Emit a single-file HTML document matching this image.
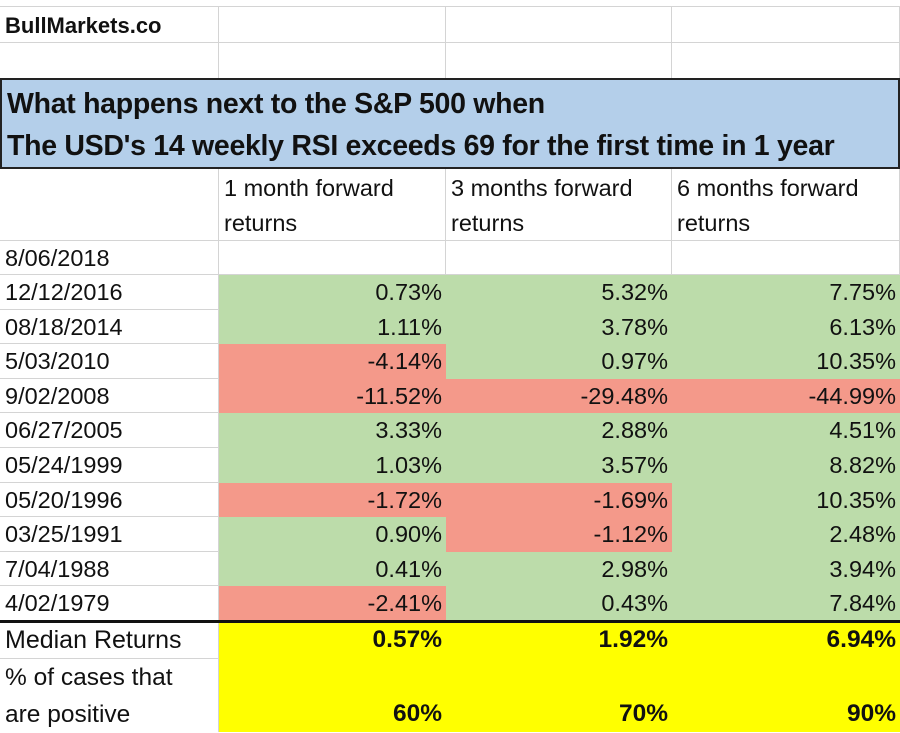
<!DOCTYPE html>
<html><head><meta charset="utf-8"><style>
body{margin:0;width:900px;height:732px;overflow:hidden;background:#fff;font-family:"Liberation Sans",Carlito,sans-serif;}
.c{position:absolute;box-sizing:border-box;color:#111;white-space:nowrap;}
</style></head><body>
<div id="root" style="position:relative;width:900px;height:732px;"></div>
<script>
const dates=["12/12/2016","08/18/2014","5/03/2010","9/02/2008","06/27/2005","05/24/1999","05/20/1996","03/25/1991","7/04/1988","4/02/1979"];
const m1=[0.73,1.11,-4.14,-11.52,3.33,1.03,-1.72,0.90,0.41,-2.41];
const m3=[5.32,3.78,0.97,-29.48,2.88,3.57,-1.69,-1.12,2.98,0.43];
const m6=[7.75,6.13,10.35,-44.99,4.51,8.82,10.35,2.48,3.94,7.84];
const medians=["0.57%","1.92%","6.94%"];
const positives=["60%","70%","90%"];
const colX=[0,219,446,672,900];
const root=document.getElementById('root');
function cell(x,y,w,h,txt,css,name){
 const d=document.createElement('div');d.className='c';
 d.style.cssText=`left:${x}px;top:${y}px;width:${w}px;height:${h}px;`+(css||'');
 d.innerHTML=txt;
 
 
 root.appendChild(d);return d;}
const grid='border-right:1px solid #d4d4d4;border-bottom:1px solid #d4d4d4;';
for(let r=0;r<2;r++)for(let c=0;c<4;c++){
 cell(colX[c],7+r*36,colX[c+1]-colX[c],36,(r==0&&c==0)?'BullMarkets.co':'',grid+'font-weight:bold;font-size:22px;padding:6px 0 0 5px;',(r==0&&c==0)?'brand-label':'empty-cell');}
cell(0,0,900,7,'','border-bottom:1px solid #d4d4d4;','top-gridline');
cell(0,78,900,91,'What happens next to the S&amp;P 500 when<br>The USD\'s 14 weekly RSI exceeds 69 for the first time in 1 year','background:#b4cfea;border:2px solid #222;font-weight:bold;font-size:28.5px;line-height:42px;padding:3px 0 0 5px;letter-spacing:-0.3px;','table-title');
const hdr=["","1 month forward<br>returns","3 months forward<br>returns","6 months forward<br>returns"];
for(let c=0;c<4;c++)cell(colX[c],169,colX[c+1]-colX[c],72,hdr[c],grid+'font-size:23.5px;line-height:35px;padding:2px 0 0 5px;','column-header');
for(let c=0;c<4;c++)cell(colX[c],241,colX[c+1]-colX[c],34,c==0?'8/06/2018':'',grid+'font-size:23.5px;padding:4px 0 0 5px;','date-row-2018');
const rh=34.6;
const cols=[m1,m3,m6];
dates.forEach((d,i)=>{
 const y=275+i*rh;
 cell(0,y,219,rh,d,grid+'font-size:23.5px;padding:4px 0 0 5px;','date-cell');
 cols.forEach((arr,j)=>{
  const v=arr[i];
  cell(colX[j+1],y,colX[j+2]-colX[j+1],rh,v.toFixed(2)+'%','background:'+(v>=0?'#bcdcaa':'#f4998a')+';font-size:23.5px;text-align:right;padding:4px 4px 0 0;','return-cell');
 });
});
cell(0,620,900,3,'','background:#111;','separator-line');
cell(0,623,219,36,'Median Returns',grid+'font-size:25px;padding:3px 0 0 5px;','median-label');
cell(0,659,219,73,'% of cases that<br>are positive','font-size:24.5px;line-height:37px;padding:0 0 0 5px;border-right:1px solid #d4d4d4;','positive-label');
for(let j=0;j<3;j++){
 cell(colX[j+1],623,colX[j+2]-colX[j+1],109,'','background:#ffff00;','summary-bg');
 cell(colX[j+1],623,colX[j+2]-colX[j+1],36,medians[j],'font-weight:bold;font-size:24.5px;text-align:right;padding:3px 4px 0 0;','median-value');
 cell(colX[j+1],697,colX[j+2]-colX[j+1],35,positives[j],'font-weight:bold;font-size:24.5px;text-align:right;padding:3px 4px 0 0;','positive-value');
}
</script>
</body></html>
